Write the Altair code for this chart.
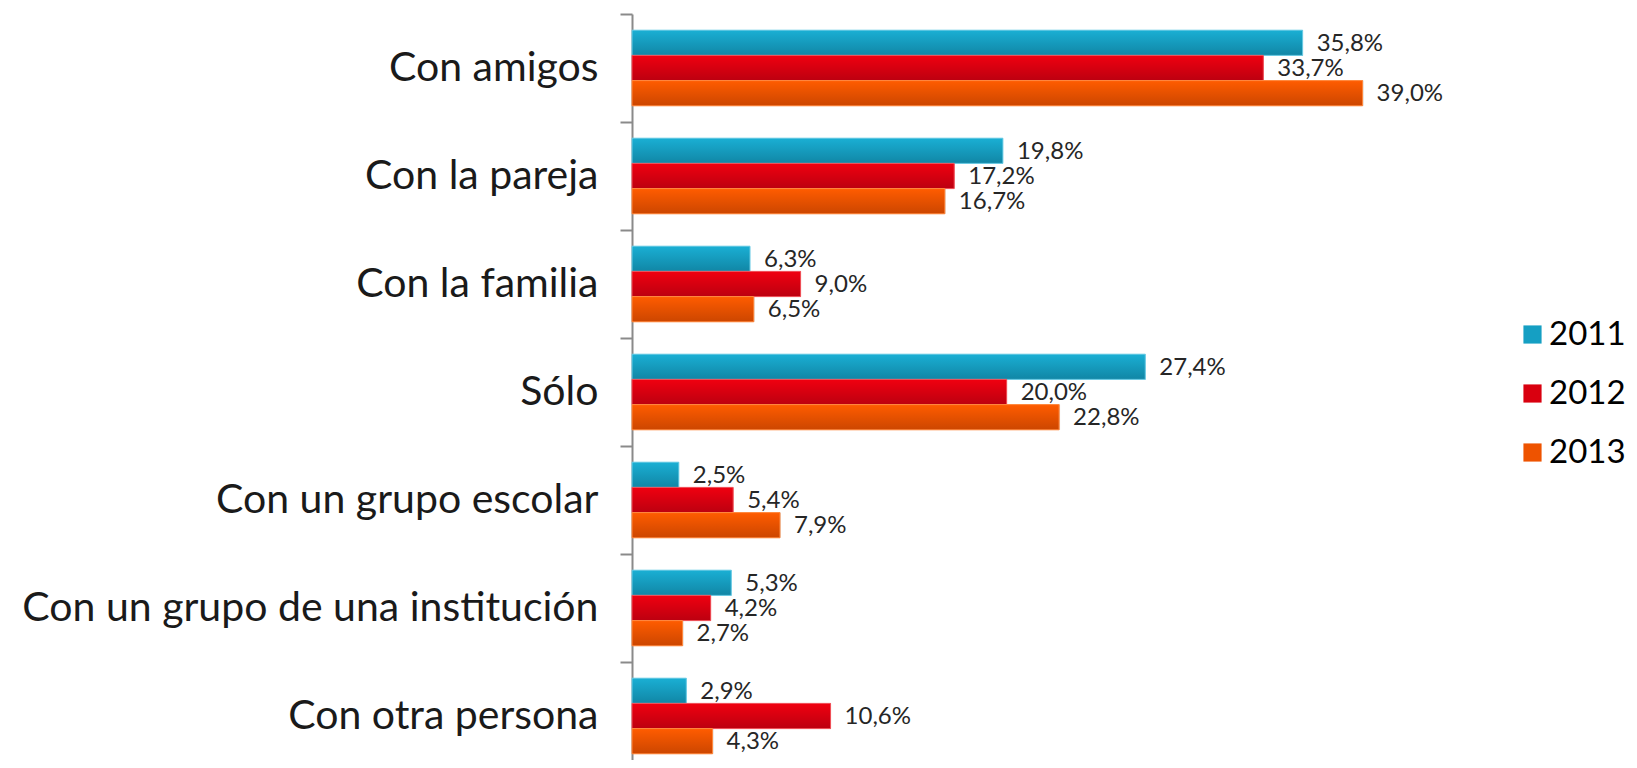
import altair as alt
import pandas as pd

categories = [
    "Con amigos",
    "Con la pareja",
    "Con la familia",
    "Sólo",
    "Con un grupo escolar",
    "Con un grupo de una institución",
    "Con otra persona",
]
years = ["2011", "2012", "2013"]
v2011 = [35.8, 19.8, 6.3, 27.4, 2.5, 5.3, 2.9]
v2012 = [33.7, 17.2, 9.0, 20.0, 5.4, 4.2, 10.6]
v2013 = [39.0, 16.7, 6.5, 22.8, 7.9, 2.7, 4.3]

solid = ["#159FC3", "#D9000F", "#EE5300"]
grad_stops = {
    "2011": ("#1AAFD4", "#1186A5", "#6FCDE6"),
    "2012": ("#F00010", "#BC0010", "#F0525A"),
    "2013": ("#FF5C00", "#CC4600", "#FF8A40"),
}

rows = []
for yr, vals in zip(years, [v2011, v2012, v2013]):
    for c, v in zip(categories, vals):
        rows.append({"cat": c, "year": yr, "value": v,
                     "label": f"{v:.1f}".replace(".", ",") + "%"})
df = pd.DataFrame(rows)

yenc = alt.Y(
    "cat:N", sort=categories,
    scale=alt.Scale(paddingInner=0, paddingOuter=0, range=[0, 756]),
    axis=alt.Axis(title=None, tickBand="extent", labelFont="Lato",
                  labelFontSize=41, labelColor="#1a1a1a", labelPadding=22,
                  tickSize=12, tickColor="#8a8a8a", tickWidth=2,
                  domainColor="#8a8a8a", domainWidth=2, labelLimit=700),
)
xenc = alt.X("value:Q", scale=alt.Scale(domain=[0, 45]), axis=None)
yoff = alt.YOffset("year:N", sort=years,
                   scale=alt.Scale(domain=years, paddingInner=0,
                                   paddingOuter=0.643))

base = alt.Chart(df).encode(y=yenc, x=xenc, yOffset=yoff)

shadow = base.transform_filter(alt.datum.year == "2013").mark_bar(
    color="#000000", opacity=0.12, yOffset=4, xOffset=1)

bars = base.mark_bar().encode(
    color=alt.Color(
        "year:N", scale=alt.Scale(domain=years, range=solid),
        legend=alt.Legend(title=None, orient="none", legendX=884, legendY=304,
                          symbolType="square", symbolSize=330,
                          symbolStrokeWidth=0, labelFont="Lato",
                          labelFontSize=33, labelColor="#000000",
                          rowPadding=25, labelOffset=0),
    )
)

layers = [shadow, bars]
for yr in years:
    top, bot, edge = grad_stops[yr]
    g = alt.LinearGradient(
        gradient="linear", x1=0, y1=0, x2=0, y2=1,
        stops=[alt.GradientStop(color=top, offset=0),
               alt.GradientStop(color=bot, offset=1)],
    )
    layers.append(
        base.transform_filter(alt.datum.year == yr)
        .mark_bar(color=g, stroke=edge, strokeWidth=1)
    )

text = base.mark_text(align="left", baseline="middle", dx=14, dy=1,
                      font="Lato", fontSize=24, color="#262626").encode(
    text="label:N")
layers.append(text)

chart = alt.layer(*layers).properties(
    width=843, height=742,
    autosize=alt.AutoSizeParams(type="none"),
    padding={"left": 624, "top": 6, "right": 154, "bottom": 4},
    background="white",
).configure_view(stroke=None)

chart.save("out.html", embed_options={"renderer": "svg", "actions": False})
